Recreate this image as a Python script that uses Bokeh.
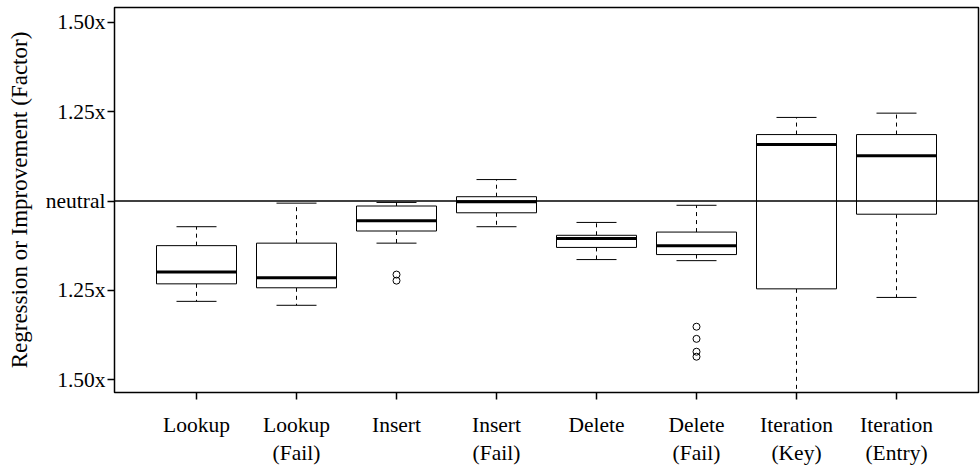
from bokeh.plotting import figure
from bokeh.models import Range1d, FixedTicker, Span
from bokeh.embed import file_html
from bokeh.resources import INLINE

# ---- data (signed factor: +0.5 = 1.50x improvement, -0.5 = 1.50x regression) ----
categories = ["Lookup", "Lookup\n(Fail)", "Insert", "Insert\n(Fail)",
              "Delete", "Delete\n(Fail)", "Iteration\n(Key)", "Iteration\n(Entry)"]
upper_whisker = [-0.072, -0.006, -0.004, 0.060, -0.060, -0.012, 0.234, 0.246]
q3 = [-0.125, -0.118, -0.014, 0.012, -0.096, -0.087, 0.186, 0.186]
median = [-0.199, -0.215, -0.055, -0.002, -0.105, -0.125, 0.158, 0.127]
q1 = [-0.232, -0.243, -0.084, -0.033, -0.130, -0.150, -0.246, -0.037]
lower_whisker = [-0.281, -0.292, -0.118, -0.072, -0.164, -0.167, -0.620, -0.270]
outlier_category = [3, 3, 6, 6, 6, 6]
outlier_value = [-0.206, -0.223, -0.352, -0.386, -0.422, -0.436]
y_tick_values = [-0.5, -0.25, 0.0, 0.25, 0.5]
y_tick_labels = ["1.50x", "1.25x", "neutral", "1.25x", "1.50x"]
y_title = "Regression or Improvement (Factor)"

FONT = "Liberation Serif"
BOX_W = 0.8
CAP_W = 0.4

x = list(range(1, len(categories) + 1))

p = figure(width=980, height=468, output_backend="svg", toolbar_location=None,
           x_range=Range1d(0.18, 8.82), y_range=Range1d(-0.5362, 0.5418),
           min_border_left=114, min_border_right=2, min_border_top=7,
           min_border_bottom=74)
p.grid.visible = False
p.background_fill_color = "white"
p.border_fill_color = "white"
p.outline_line_color = "black"
p.outline_line_width = 1.5

# whiskers (dashed)
p.segment(x0=x, y0=q3, x1=x, y1=upper_whisker, line_color="black",
          line_width=1, line_dash="4 4")
p.segment(x0=x, y0=q1, x1=x, y1=lower_whisker, line_color="black",
          line_width=1, line_dash="4 4")
# whisker caps
p.segment(x0=[v - CAP_W / 2 for v in x], y0=upper_whisker,
          x1=[v + CAP_W / 2 for v in x], y1=upper_whisker,
          line_color="black", line_width=1)
p.segment(x0=[v - CAP_W / 2 for v in x], y0=lower_whisker,
          x1=[v + CAP_W / 2 for v in x], y1=lower_whisker,
          line_color="black", line_width=1)
# boxes
p.vbar(x=x, width=BOX_W, top=q3, bottom=q1, fill_color="white",
       line_color="black", line_width=1)
# medians
p.segment(x0=[v - BOX_W / 2 for v in x], y0=median,
          x1=[v + BOX_W / 2 for v in x], y1=median,
          line_color="black", line_width=3)
# outliers
p.scatter(x=outlier_category, y=outlier_value, marker="circle", size=7,
          fill_color=None, line_color="black", line_width=1)

# neutral line
p.add_layout(Span(location=0, dimension="width", line_color="black",
                  line_width=1.5))

# axes
for ax in (p.xaxis[0], p.yaxis[0]):
    ax.axis_line_color = None
    ax.major_tick_in = 0
    ax.major_tick_out = 7
    ax.major_tick_line_color = "black"
    ax.major_tick_line_width = 1.5
    ax.minor_tick_line_color = None
    ax.major_label_text_font = FONT
    ax.major_label_text_font_size = "21.5px"
    ax.major_label_text_color = "black"

p.xaxis.ticker = FixedTicker(ticks=x)
p.xaxis.major_label_overrides = {v: c for v, c in zip(x, categories)}
p.xaxis.major_label_standoff = 13

p.yaxis.ticker = FixedTicker(ticks=y_tick_values)
p.yaxis.major_label_overrides = dict(zip(y_tick_values, y_tick_labels))
p.yaxis.major_label_standoff = 2
p.yaxis.axis_label = y_title
p.yaxis.axis_label_text_font = FONT
p.yaxis.axis_label_text_font_size = "23px"
p.yaxis.axis_label_text_font_style = "normal"
p.yaxis.axis_label_text_color = "black"
p.yaxis.axis_label_standoff = 11

open("out.html", "w").write(file_html(p, INLINE))
